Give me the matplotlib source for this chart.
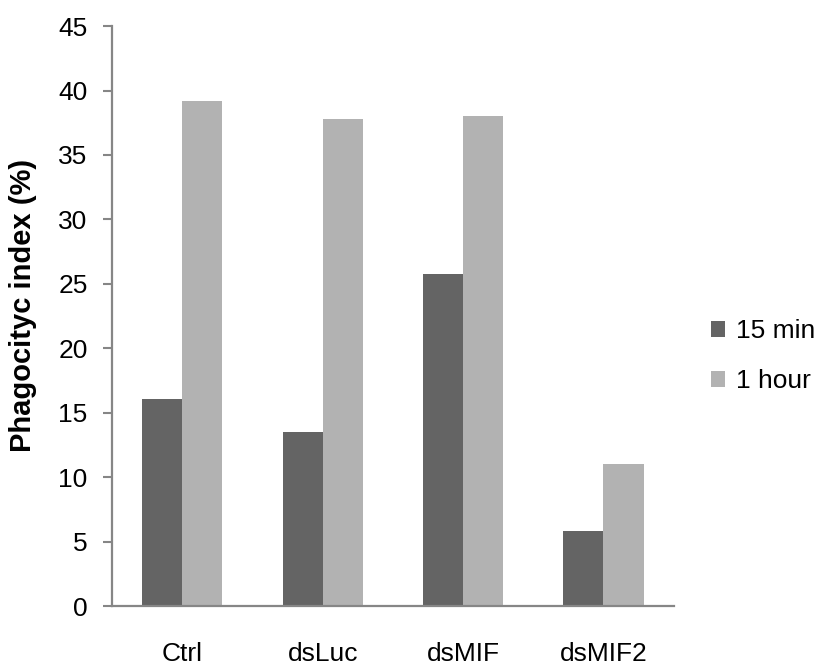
import matplotlib.pyplot as plt
import numpy as np

plt.rcParams['font.family'] = ['Liberation Sans', 'DejaVu Sans']

categories = ["Ctrl", "dsLuc", "dsMIF", "dsMIF2"]
min15 = [16.1, 13.5, 25.8, 5.8]
hour1 = [39.2, 37.8, 38.0, 11.0]

DARK = "#646464"
LIGHT = "#b2b2b2"
AXIS = "#868686"

fig = plt.figure(figsize=(8.2, 6.72), dpi=100)
ax = fig.add_axes([0.1366, 0.0982, 0.685, 0.863])

x = np.arange(len(categories))
w = 0.285
ax.bar(x - w / 2, min15, width=w, color=DARK, label="15 min")
ax.bar(x + w / 2, hour1, width=w, color=LIGHT, label="1 hour")

ax.set_ylim(0, 45)
ax.set_yticks(range(0, 46, 5))
ax.set_xlim(-0.5, 3.5)
ax.set_xticks(x)
ax.set_xticklabels(categories)

for s in ["top", "right"]:
    ax.spines[s].set_visible(False)
for s in ["left", "bottom"]:
    ax.spines[s].set_color(AXIS)
    ax.spines[s].set_linewidth(1.6)

ax.tick_params(axis="y", length=6.5, width=1.5, color=AXIS, labelsize=19, pad=11)
ax.tick_params(axis="x", length=0, labelsize=19, pad=26)
ax.set_ylabel("Phagocityc index (%)", fontsize=21, fontweight="bold")
ax.yaxis.set_label_coords(-0.133, 0.519)

fig.legend(loc="center left", bbox_to_anchor=(0.867, 0.47), frameon=False,
           fontsize=19, borderpad=0, borderaxespad=0, handlelength=0.55,
           handleheight=0.55, handletextpad=0.4, labelspacing=1.0)

fig.savefig("out.png", dpi=100)
